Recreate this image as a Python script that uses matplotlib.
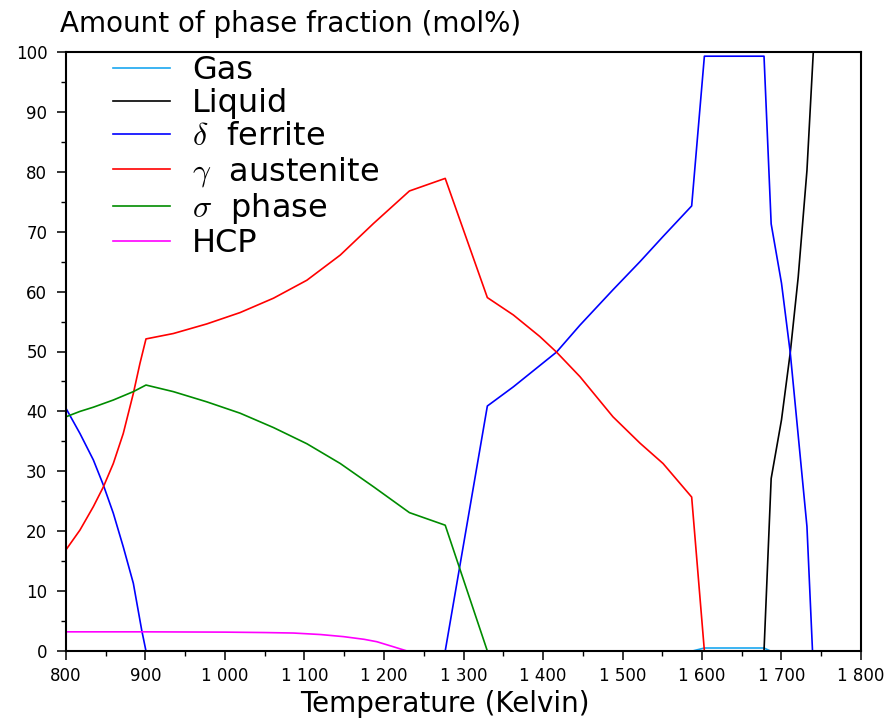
import numpy as np
import matplotlib
matplotlib.use('Agg')
import matplotlib.pyplot as plt
from matplotlib.ticker import MultipleLocator, FuncFormatter

plt.rcParams['mathtext.fontset'] = 'cm'

# Phase fractions (mol%)

gas_T = [1588, 1603, 1678, 1686]
gas_v = [0.0, 0.5, 0.5, 0.0]

liquid_T = [1678, 1687, 1700, 1711, 1721, 1732, 1740]
liquid_v = [0.0, 28.8, 38.6, 49.8, 62.4, 80.2, 100.0]

ferrite_T = [800, 817.6, 834.4, 847, 859.5, 872, 884.7, 895.2, 900.6, 1277,
             1330, 1362.7, 1417, 1446.5, 1488, 1522, 1551, 1587, 1603, 1678,
             1687, 1700, 1711, 1721, 1732, 1739]
ferrite_v = [40.5, 36.3, 31.9, 27.7, 23.0, 17.4, 11.3, 3.5, 0.0, 0.0,
             40.9, 44.1, 49.9, 54.4, 60.3, 65.0, 69.2, 74.3, 99.3, 99.3,
             71.3, 61.4, 49.8, 36.0, 20.8, 0.0]

austenite_T = [800, 817.6, 834.4, 847, 859.5, 872, 884.7, 893, 900.6, 935, 977,
               1019, 1061, 1103, 1145, 1187, 1232, 1277,
               1330, 1362.7, 1396, 1417, 1446.5, 1488, 1522, 1551, 1587, 1603]
austenite_v = [16.9, 20.2, 24.1, 27.4, 31.3, 36.3, 43.0, 48.0, 52.1, 53.0, 54.6,
               56.5, 58.9, 61.9, 66.1, 71.4, 76.8, 78.9,
               59.0, 56.1, 52.5, 49.9, 45.8, 39.1, 34.7, 31.3, 25.7, 0.0]

sigma_T = [800, 817.6, 834.4, 859.5, 884.7, 900.6, 935, 977, 1019, 1061, 1103,
           1145, 1187, 1232, 1277, 1330]
sigma_v = [39.1, 40.0, 40.7, 41.9, 43.3, 44.4, 43.3, 41.6, 39.7, 37.3, 34.6,
           31.3, 27.4, 23.1, 21.0, 0.0]

hcp_T = [800, 900, 1000, 1050, 1086, 1120, 1149, 1175, 1191, 1212, 1229]
hcp_v = [3.2, 3.2, 3.15, 3.08, 3.0, 2.75, 2.4, 1.95, 1.55, 0.7, 0.0]

labels = ['Gas', 'Liquid', r'$\delta$  ferrite', r'$\gamma$  austenite',
          r'$\sigma$  phase', 'HCP']
colors = ['#1aa7f0', 'black', 'blue', 'red', '#008c00', 'magenta']
series = [(gas_T, gas_v), (liquid_T, liquid_v), (ferrite_T, ferrite_v),
          (austenite_T, austenite_v), (sigma_T, sigma_v), (hcp_T, hcp_v)]

# Plot

fig = plt.figure(figsize=(8.87, 7.18), dpi=100)
ax = fig.add_axes([66/887, 67/718, 795/887, 599/718])

for (T, v), c, lab in zip(series, colors, labels):
    ax.plot(T, v, color=c, lw=1.2, label=lab, zorder=2)

ax.set_xlim(800, 1800)
ax.set_ylim(0, 100)
ax.xaxis.set_major_locator(MultipleLocator(100))
ax.xaxis.set_minor_locator(MultipleLocator(50))
ax.yaxis.set_major_locator(MultipleLocator(10))
ax.yaxis.set_minor_locator(MultipleLocator(5))
ax.xaxis.set_major_formatter(FuncFormatter(lambda x, p: '{:,.0f}'.format(x).replace(',', ' ')))

for s in ax.spines.values():
    s.set_linewidth(1.5)
ax.tick_params(which='major', length=6.5, width=1.1, labelsize=12)
ax.tick_params(which='minor', length=3.6, width=1.0)
ax.tick_params(axis='x', which='major', pad=5)
ax.tick_params(axis='y', which='major', pad=7)

fig.text(445/887, 6/718, 'Temperature (Kelvin)', fontsize=20,
         ha='center', va='baseline')
fig.text(60/887, 1 - 32/718, 'Amount of phase fraction (mol%)', fontsize=20,
         ha='left', va='baseline')

ax.legend(loc='upper left', bbox_to_anchor=(113/887, 1 - 55/718),
          bbox_transform=fig.transFigure, frameon=False, fontsize=23,
          borderpad=0, borderaxespad=0, labelspacing=0.07,
          handlelength=1.78, handletextpad=0.7)

fig.savefig('out.png', dpi=100)
